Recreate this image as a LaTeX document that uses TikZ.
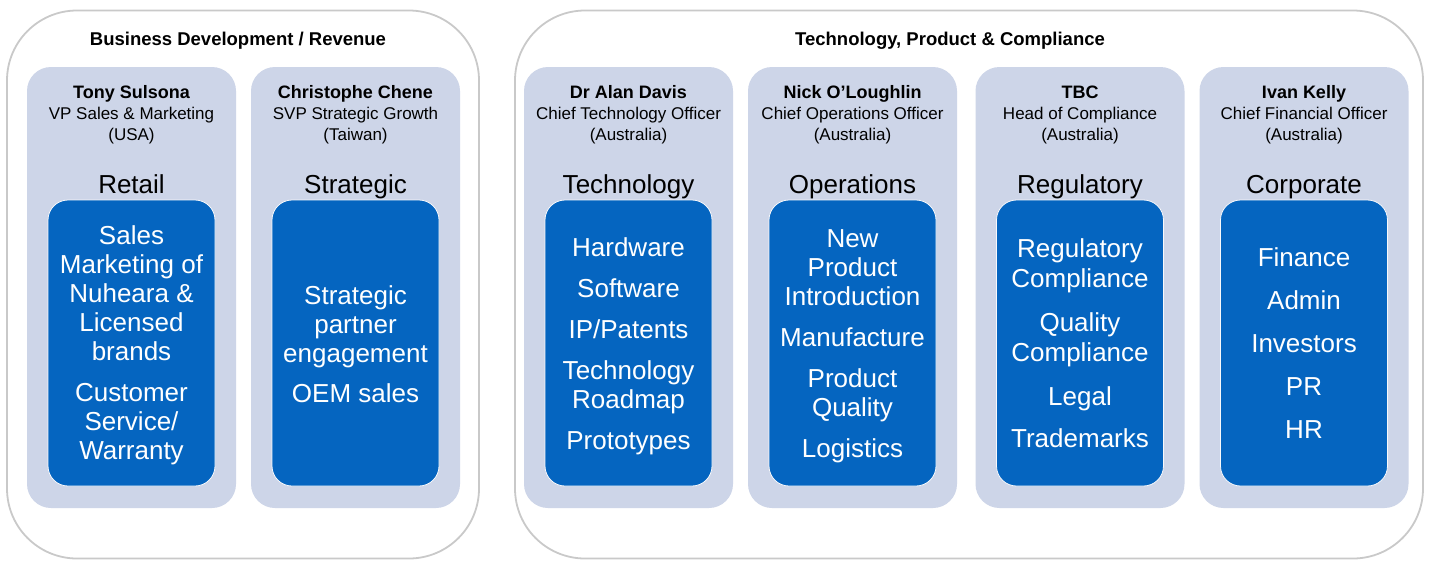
\documentclass[tikz,border=0pt]{standalone}
\usepackage{fontspec}
\setmainfont{Liberation Sans}
\definecolor{lightblue}{HTML}{CDD5E8}
\definecolor{darkblue}{HTML}{0565C0}
\definecolor{framegray}{HTML}{C9C9C9}
\begin{document}
\begin{tikzpicture}[x=1pt,y=-1pt,
  outerbox/.style={draw=framegray, line width=1.8pt, fill=white, rounded corners=70pt, inner sep=0pt},
  colbox/.style={fill=lightblue, draw=none, rounded corners=24pt, minimum width=209pt, minimum height=441pt, inner sep=0pt},
  innerbox/.style={fill=darkblue, draw=white!85!lightblue, line width=0.8pt, rounded corners=20pt, minimum width=167pt, minimum height=286pt, inner sep=0pt},
  hdr/.style={font=\fontsize{18.5}{22}\selectfont\bfseries, text=black, anchor=base, inner sep=0pt},
  person/.style={align=center, font=\fontsize{17}{21}\selectfont, text=black, inner sep=0pt},
  cat/.style={font=\fontsize{26}{30}\selectfont, text=black, inner sep=0pt, anchor=base},
  items/.style={align=center, font=\fontsize{26}{29}\selectfont, text=white, inner sep=0pt}]
\useasboundingbox (0,0) rectangle (1429,560);
% outer groups
\node[outerbox, minimum width=472pt, minimum height=548pt] (g1) at (243,284.5) {};
\node[outerbox, minimum width=908pt, minimum height=548pt] (g2) at (969,284.5) {};
\node[hdr] (h1) at (238,45) {Business Development / Revenue};
\node[hdr] (h2) at (950,45) {Technology, Product \& Compliance};
% columns
\foreach \n/\x in {1/131.5,2/355.5,3/628.5,4/852.5,5/1080,6/1304}{
  \node[colbox] (c\n) at (\x,287.5) {};
  \node[innerbox] (i\n) at (\x,343) {};
}
% people
\node[person] (p1) at (131.5,114.5) {{\fontsize{18}{21}\selectfont\bfseries Tony Sulsona}\\VP Sales \& Marketing\\(USA)};
\node[person] (p2) at (355.5,114.5) {{\fontsize{18}{21}\selectfont\bfseries Christophe Chene}\\SVP Strategic Growth\\(Taiwan)};
\node[person] (p3) at (628.5,114.5) {{\fontsize{18}{21}\selectfont\bfseries Dr Alan Davis}\\Chief Technology Officer\\(Australia)};
\node[person] (p4) at (852.5,114.5) {{\fontsize{18}{21}\selectfont\bfseries Nick O’Loughlin}\\Chief Operations Officer\\(Australia)};
\node[person] (p5) at (1080,114.5) {{\fontsize{18}{21}\selectfont\bfseries TBC}\\Head of Compliance\\(Australia)};
\node[person] (p6) at (1304,114.5) {{\fontsize{18}{21}\selectfont\bfseries Ivan Kelly}\\Chief Financial Officer\\(Australia)};
% categories
\node[cat] (k1) at (131.5,193) {Retail};
\node[cat] (k2) at (355.5,193) {Strategic};
\node[cat] (k3) at (628.5,193) {Technology};
\node[cat] (k4) at (852.5,193) {Operations};
\node[cat] (k5) at (1080,193) {Regulatory};
\node[cat] (k6) at (1304,193) {Corporate};
% items
\node[items] (t1) at ([yshift=-2.5pt]i1.center) {Sales\\Marketing of\\Nuheara \&\\Licensed\\brands\\[12pt]Customer\\Service/\\Warranty};
\node[items] (t2) at ([yshift=-1pt]i2.center) {Strategic\\partner\\engagement\\[11pt]OEM sales};
\node[items] (t3) at ([yshift=-3pt]i3.center) {Hardware\\[12pt]Software\\[12pt]IP/Patents\\[12pt]Technology\\Roadmap\\[12pt]Prototypes};
\node[items] (t4) at ([yshift=-3pt]i4.center) {New\\Product\\Introduction\\[12pt]Manufacture\\[12pt]Product\\Quality\\[12pt]Logistics};
\node[items, font=\fontsize{26}{30}\selectfont] (t5) at (i5) {Regulatory\\Compliance\\[14pt]Quality\\Compliance\\[14pt]Legal\\[12pt]Trademarks};
\node[items] (t6) at (i6) {Finance\\[14pt]Admin\\[14pt]Investors\\[14pt]PR\\[14pt]HR};
\end{tikzpicture}
\end{document}
